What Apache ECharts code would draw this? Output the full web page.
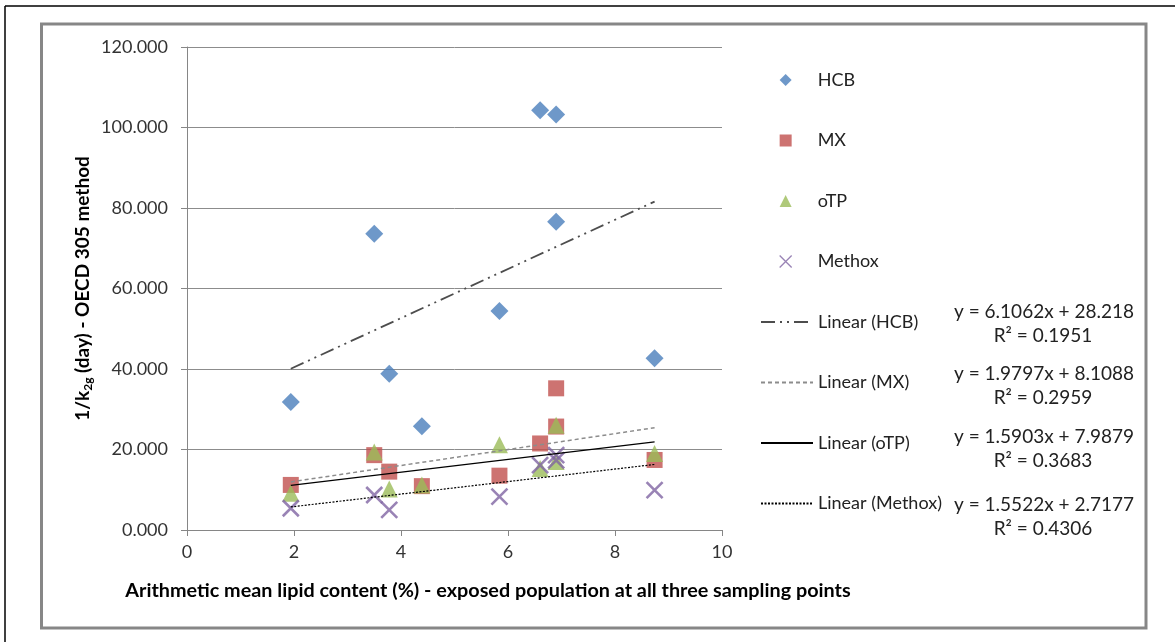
<!DOCTYPE html>
<html>
<head>
<meta charset="utf-8">
<script src="https://cdn.jsdelivr.net/npm/echarts/dist/echarts.min.js"></script>
<style>
  html, body { margin: 0; padding: 0; background: #fff; }
  #chart { width: 1175px; height: 642px; }
</style>
</head>
<body>
<div id="chart"></div>
<script>
// Lipid content (%) of each population and 1/k2g (day) per compound
const hcbX = [1.94, 3.50, 3.78, 4.39, 5.84, 6.60, 6.90, 6.90, 8.74];
const hcbY = [31.8, 73.6, 38.8, 25.8, 54.4, 104.3, 103.2, 76.6, 42.7];

const mxX = [1.94, 3.50, 3.78, 4.39, 5.84, 6.60, 6.90, 6.90, 8.74];
const mxY = [11.2, 18.6, 14.5, 10.9, 13.5, 21.5, 35.2, 25.7, 17.4];

const otpX = [1.94, 3.50, 3.78, 4.39, 5.84, 6.60, 6.90, 6.90, 8.74];
const otpY = [9.1, 19.4, 10.2, 11.2, 21.2, 15.3, 26.0, 17.0, 19.0];

const methoxX = [1.94, 3.50, 3.78, 5.84, 6.60, 6.90, 6.90, 8.74];
const methoxY = [5.4, 8.7, 5.0, 8.3, 16.1, 18.6, 17.3, 9.9];

// Linear trend lines: slope, intercept and R² as printed
const seriesNames = ['HCB', 'MX', 'oTP', 'Methox'];
const trendSlopes = [6.1062, 1.9797, 1.5903, 1.5522];
const trendIntercepts = [28.218, 8.1088, 7.9879, 2.7177];
const trendR2 = ['0.1951', '0.2959', '0.3683', '0.4306'];

const yTicks = [0, 20, 40, 60, 80, 100, 120];
const xTicks = [0, 2, 4, 6, 8, 10];

const FONT = 'Lato, "Open Sans", sans-serif';
const colors = ['#4A7EBB', '#C0504D', '#9BBB59', '#8064A2'];
const crossPath = 'path://M0,0L12,12M12,0L0,12';

function pairs(xs, ys) { return xs.map((x, i) => [x, ys[i]]); }

const pointSets = [pairs(hcbX, hcbY), pairs(mxX, mxY), pairs(otpX, otpY), pairs(methoxX, methoxY)];
const xSets = [hcbX, mxX, otpX, methoxX];

const trendStyles = [
  { color: '#4D4D4D', width: 1.8, type: [14, 5, 2, 5, 2, 5] },
  { color: '#8C8C8C', width: 1.5, type: [4, 3] },
  { color: '#000000', width: 1.2, type: 'solid' },
  { color: '#000000', width: 1.2, type: [2, 1.5] }
];

const scatterSeries = [
  { name: 'HCB', type: 'scatter', symbol: 'diamond', symbolSize: 18, data: pointSets[0], itemStyle: { color: colors[0] }, z: 2 },
  { name: 'MX', type: 'scatter', symbol: 'rect', symbolSize: 16, data: pointSets[1], itemStyle: { color: colors[1] }, z: 3 },
  { name: 'oTP', type: 'scatter', symbol: 'triangle', symbolSize: 17, data: pointSets[2], itemStyle: { color: colors[2] }, z: 4 },
  { name: 'Methox', type: 'scatter', symbol: crossPath, symbolSize: 16, data: pointSets[3],
    itemStyle: { color: 'rgba(0,0,0,0)', borderColor: colors[3], borderWidth: 2.6 }, z: 5 }
];

const trendSeries = seriesNames.map((n, i) => {
  const x0 = Math.min(...xSets[i]);
  const x1 = Math.max(...xSets[i]);
  const f = x => trendSlopes[i] * x + trendIntercepts[i];
  return {
    name: 'Linear (' + n + ')',
    type: 'line',
    data: [[x0, f(x0)], [x1, f(x1)]],
    symbol: 'none',
    lineStyle: trendStyles[i],
    itemStyle: { color: trendStyles[i].color },
    silent: true,
    z: 6
  };
});

// Equation labels beside the legend
const eqTop = [312, 374, 437, 505];
const eqGraphics = [];
seriesNames.forEach((n, i) => {
  eqGraphics.push({
    type: 'text', x: 1044, y: eqTop[i], z: 10,
    style: { text: 'y = ' + trendSlopes[i] + 'x + ' + trendIntercepts[i], x: 0, y: 0,
      textAlign: 'center', textVerticalAlign: 'middle', font: '19px ' + FONT, fill: '#222' }
  });
  eqGraphics.push({
    type: 'text', x: 1043, y: eqTop[i] + 24, z: 10,
    style: { text: 'R\u00B2 = ' + trendR2[i], x: 0, y: 0,
      textAlign: 'center', textVerticalAlign: 'middle', font: '19px ' + FONT, fill: '#222' }
  });
});

const hiddenMarker = { color: 'rgba(0,0,0,0)', borderColor: 'rgba(0,0,0,0)', borderWidth: 0, opacity: 0 };

const chart = echarts.init(document.getElementById('chart'), null, { renderer: 'canvas' });

chart.setOption({
  animation: false,
  backgroundColor: '#ffffff',
  grid: { left: 187, right: 453, top: 47, bottom: 112, containLabel: false },
  xAxis: {
    type: 'value', min: xTicks[0], max: xTicks[xTicks.length - 1], interval: 2,
    axisLine: { show: true, lineStyle: { color: '#868686', width: 1 } },
    axisTick: { show: true, inside: false, length: 6, lineStyle: { color: '#868686' } },
    splitLine: { show: false },
    axisLabel: { color: '#333', fontFamily: FONT, fontSize: 18, margin: 13 }
  },
  yAxis: {
    type: 'value', min: yTicks[0], max: yTicks[yTicks.length - 1], interval: 20,
    axisLine: { show: true, lineStyle: { color: '#868686', width: 1 } },
    axisTick: { show: true, inside: false, length: 6, lineStyle: { color: '#868686' } },
    splitLine: { show: true, lineStyle: { color: '#8C8C8C', width: 1 } },
    axisLabel: { color: '#333', fontFamily: FONT, fontSize: 18, margin: 19,
      formatter: v => v.toFixed(3) },
    name: '{a|1/k}{s|2g}{a| (day) - OECD 305 method}',
    nameLocation: 'middle', nameGap: 93, nameRotate: 90,
    nameTextStyle: {
      rich: {
        a: { fontFamily: FONT, fontWeight: 'bold', fontSize: 19, color: '#000' },
        s: { fontFamily: FONT, fontWeight: 'bold', fontSize: 12, color: '#000', padding: [10, 0, 0, 0] }
      }
    }
  },
  legend: [
    {
      data: [
        { name: 'HCB', icon: 'diamond' },
        { name: 'MX', icon: 'rect' },
        { name: 'oTP', icon: 'triangle' },
        { name: 'Methox', icon: crossPath, itemStyle: { color: 'rgba(0,0,0,0)', borderColor: colors[3], borderWidth: 1.3 } }
      ],
      orient: 'vertical', left: 779, top: 70, padding: 0,
      itemWidth: 12, itemHeight: 12, itemGap: 40.5,
      selectedMode: false,
      textStyle: { fontFamily: FONT, fontSize: 18, color: '#222', lineHeight: 20, padding: [0, 0, 0, 21] }
    },
    {
      data: trendSeries.map(s => ({ name: s.name, itemStyle: hiddenMarker })),
      orient: 'vertical', left: 760, top: 312, padding: 0,
      itemWidth: 52, itemHeight: 14, itemGap: 40.5,
      selectedMode: false,
      textStyle: { fontFamily: FONT, fontSize: 18, color: '#222', lineHeight: 20 }
    }
  ],
  graphic: [
    { type: 'line', shape: { x1: 5, y1: 6, x2: 1175, y2: 6 }, style: { stroke: '#000', lineWidth: 1.5 } },
    { type: 'line', shape: { x1: 5, y1: 6, x2: 5, y2: 642 }, style: { stroke: '#000', lineWidth: 1.5 } },
    { type: 'rect', shape: { x: 41.5, y: 24, width: 1104.5, height: 604 }, style: { fill: 'none', stroke: '#878787', lineWidth: 3 }, z: -1 },
    { type: 'text', x: 488, y: 591, z: 10,
      style: { text: 'Arithmetic mean lipid content (%) - exposed population at all three sampling points',
        x: 0, y: 0, textAlign: 'center', textVerticalAlign: 'middle',
        font: 'bold 19.8px ' + FONT, fill: '#000' } }
  ].concat(eqGraphics),
  series: scatterSeries.concat(trendSeries)
});
</script>
</body>
</html>
